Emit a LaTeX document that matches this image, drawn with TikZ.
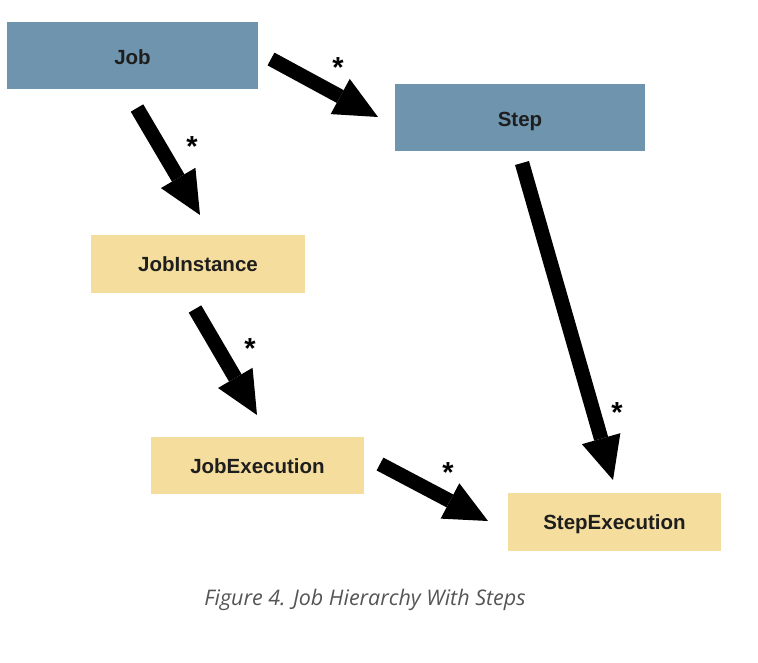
\documentclass[tikz,border=0pt]{standalone}
\usepackage{fontspec}
\setmainfont{Liberation Sans}
\newfontfamily\capfont{Open Sans}
\usetikzlibrary{arrows.meta}
\definecolor{boxblue}{RGB}{111,148,174}
\definecolor{boxyellow}{RGB}{245,221,157}
\definecolor{labeltext}{RGB}{30,30,30}
\definecolor{captext}{RGB}{85,85,85}
\tikzset{
  entity/.style={inner sep=0pt, font=\fontsize{20.5}{24}\selectfont\bfseries, text=labeltext},
  bluebox/.style={entity, fill=boxblue, text height=18.6pt, text depth=0pt},
  yellowbox/.style={entity, fill=boxyellow, text height=15pt, text depth=0pt},
  conn/.style={line width=14.5pt, -{Triangle[length=43pt,width=40pt,line width=0pt]}},
  multi/.style={inner sep=0pt, font=\fontsize{29}{32}\selectfont\bfseries}
}
\begin{document}
\begin{tikzpicture}[x=1pt,y=-1pt]
\useasboundingbox (0,0) rectangle (758,662);
% boxes
\node[bluebox, minimum width=251pt, minimum height=67pt] (job) at (132.5,55.5) {Job};
\node[bluebox, minimum width=250pt, minimum height=67pt] (step) at (520,117.5) {Step};
\node[yellowbox, minimum width=214pt, minimum height=58pt] (jobinst) at (198,264) {JobInstance};
\node[yellowbox, minimum width=213pt, minimum height=57pt] (jobexec) at (257.5,465.5) {JobExecution};
\node[yellowbox, minimum width=213pt, minimum height=58pt] (stepexec) at (614.5,522) {StepExecution};
% connector ends
\coordinate (a1s) at (271,59);  \coordinate (a1e) at (378,117);
\coordinate (a2s) at (137,108); \coordinate (a2e) at (200,215);
\coordinate (a3s) at (522,163); \coordinate (a3e) at (613,480);
\coordinate (a4s) at (195,309); \coordinate (a4e) at (257,415);
\coordinate (a5s) at (380,464); \coordinate (a5e) at (488,521);
\draw[conn] (a1s) -- (a1e);
\draw[conn] (a2s) -- (a2e);
\draw[conn] (a3s) -- (a3e);
\draw[conn] (a4s) -- (a4e);
\draw[conn] (a5s) -- (a5e);
% multiplicities
\node[multi] (m1) at (338,68) {*};
\node[multi] (m2) at (192,147) {*};
\node[multi] (m3) at (250,349) {*};
\node[multi] (m4) at (617,413) {*};
\node[multi] (m5) at (448,473) {*};
% caption
\node[font=\capfont\itshape\fontsize{21.5}{24}\selectfont, text=captext] (cap) at (365,600) {Figure 4. Job Hierarchy With Steps};
\end{tikzpicture}
\end{document}
